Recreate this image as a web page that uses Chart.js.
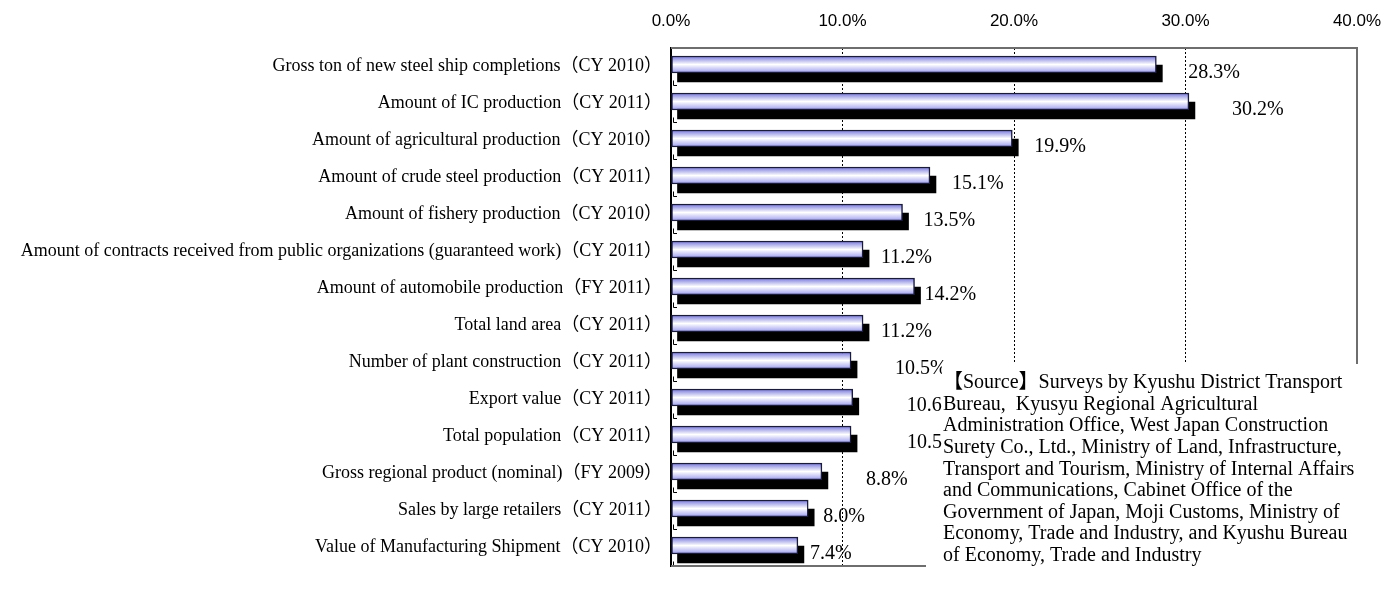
<!DOCTYPE html>
<html>
<head>
<meta charset="utf-8">
<script src="https://cdn.jsdelivr.net/npm/chart.js@4"></script>
<style>
  html, body { margin: 0; padding: 0; background: #ffffff; }
  #wrap { width: 1385px; height: 589px; }
</style>
</head>
<body>
<div id="wrap"><canvas id="chart" width="1385" height="589"></canvas></div>
<script>
// Kyushu's share of the national total, per indicator (percent)
const categories = [
  'Gross ton of new steel ship completions（CY 2010）',
  'Amount of IC production（CY 2011）',
  'Amount of agricultural production（CY 2010）',
  'Amount of crude steel production（CY 2011）',
  'Amount of fishery production（CY 2010）',
  'Amount of contracts received from public organizations (guaranteed work)（CY 2011）',
  'Amount of automobile production（FY 2011）',
  'Total land area（CY 2011）',
  'Number of plant construction（CY 2011）',
  'Export value（CY 2011）',
  'Total population（CY 2011）',
  'Gross regional product (nominal)（FY 2009）',
  'Sales by large retailers（CY 2011）',
  'Value of Manufacturing Shipment（CY 2010）'
];
const shares = [28.3, 30.2, 19.9, 15.1, 13.5, 11.2, 14.2, 11.2, 10.5, 10.6, 10.5, 8.8, 8.0, 7.4];
const axisTicks = [0, 10, 20, 30, 40];
const sourceLines = [
  '【Source】Surveys by Kyushu District Transport',
  'Bureau,  Kyusyu Regional Agricultural',
  'Administration Office, West Japan Construction',
  'Surety Co., Ltd., Ministry of Land, Infrastructure,',
  'Transport and Tourism, Ministry of Internal Affairs',
  'and Communications, Cabinet Office of the',
  'Government of Japan, Moji Customs, Ministry of',
  'Economy, Trade and Industry, and Kyushu Bureau',
  'of Economy, Trade and Industry'
];

// hand-placed label nudges from the original (pixels past the bar end)
const labelNudge = [32, 43, 22, 22, 21, 18, 10, 18, 44, 54, 56, 44, 15, 12];

const serif = "'Liberation Serif', 'Times New Roman', 'Noto Sans CJK JP', serif";
const sans = "'Liberation Sans', Arial, sans-serif";
const BAR_H = 17;
const NOTE_X = 942;   // left edge of the source note box
const NOTE_Y = 364;

// Lavender tube gradient for each bar, built from the y scale
function barGradient(c) {
  const chart = c.chart;
  const y = chart.scales.y;
  if (!y || c.dataIndex == null) return '#b8b8f8';
  const cy = y.getPixelForValue(c.dataIndex);
  if (!isFinite(cy)) return '#b8b8f8';
  const g = chart.ctx.createLinearGradient(0, cy - BAR_H / 2, 0, cy + BAR_H / 2);
  g.addColorStop(0, '#7474dc');
  g.addColorStop(0.5, '#ffffff');
  g.addColorStop(1, '#9a9aee');
  return g;
}

// Shadow dataset is shifted down-right, front bars nudged up a little
const barOffsets = {
  id: 'barOffsets',
  beforeDatasetDraw(chart, args) {
    chart.ctx.save();
    if (args.index === 0) chart.ctx.translate(6, 7);
    else chart.ctx.translate(0, -2);
  },
  afterDatasetDraw(chart) {
    chart.ctx.restore();
  }
};

const extras = {
  id: 'extras',
  afterDatasetsDraw(chart) {
    const ctx = chart.ctx;
    const meta = chart.getDatasetMeta(1);
    ctx.save();
    ctx.fillStyle = '#000000';
    ctx.font = `20px ${serif}`;
    ctx.textAlign = 'left';
    ctx.textBaseline = 'middle';
    meta.data.forEach((bar, i) => {
      ctx.fillText(shares[i].toFixed(1) + '%', bar.x + labelNudge[i], bar.y + 6);
    });
    ctx.restore();
  },
  afterDraw(chart) {
    const ctx = chart.ctx;
    const a = chart.chartArea;
    const y = chart.scales.y;
    ctx.save();
    // small marks on the category axis
    ctx.strokeStyle = '#000000';
    ctx.lineWidth = 1;
    for (let i = 0; i < categories.length; i++) {
      const by = Math.round(y.getPixelForValue(i + 0.5)) + 0.5;
      ctx.beginPath();
      ctx.moveTo(a.left + 2.5, by - 5);
      ctx.lineTo(a.left + 2.5, by);
      ctx.lineTo(a.left + 6, by);
      ctx.stroke();
    }
    // plot frame (bottom edge stops short of the note)
    ctx.strokeStyle = '#6e6e6e';
    ctx.lineWidth = 2;
    ctx.beginPath();
    ctx.moveTo(a.left, a.top);
    ctx.lineTo(a.right, a.top);
    ctx.lineTo(a.right, NOTE_Y);
    ctx.moveTo(a.left, a.bottom);
    ctx.lineTo(NOTE_X - 16, a.bottom);
    ctx.stroke();
    // source note box covers the lower right corner
    ctx.fillStyle = '#ffffff';
    ctx.fillRect(NOTE_X, NOTE_Y, chart.width - NOTE_X, chart.height - NOTE_Y);
    ctx.fillStyle = '#000000';
    ctx.font = `20px ${serif}`;
    ctx.textAlign = 'left';
    ctx.textBaseline = 'middle';
    sourceLines.forEach((line, i) => {
      ctx.fillText(line, NOTE_X + 1, 383 + i * 21.6);
    });
    ctx.restore();
  }
};

new Chart(document.getElementById('chart'), {
  type: 'bar',
  data: {
    labels: categories,
    datasets: [
      {
        label: 'shadow',
        data: shares,
        backgroundColor: '#000000',
        borderWidth: 0,
        barThickness: BAR_H,
        grouped: false,
        order: 2,
        clip: false
      },
      {
        label: 'share',
        data: shares,
        backgroundColor: barGradient,
        borderColor: '#1a1a3a',
        borderWidth: 1.5,
        borderSkipped: false,
        barThickness: BAR_H,
        grouped: false,
        order: 1,
        clip: false
      }
    ]
  },
  options: {
    indexAxis: 'y',
    responsive: false,
    animation: false,
    layout: { padding: { left: 0, right: 28, top: 0, bottom: 23 } },
    plugins: {
      legend: { display: false },
      tooltip: { enabled: false }
    },
    scales: {
      x: {
        position: 'top',
        min: axisTicks[0],
        max: axisTicks[axisTicks.length - 1],
        afterBuildTicks: (scale) => {
          scale.ticks = axisTicks.map((v) => ({ value: v }));
        },
        afterFit: (scale) => {
          scale.height = 48;
          scale.paddingLeft = 0;
          scale.paddingRight = 0;
        },
        ticks: {
          color: '#000000',
          font: { family: sans, size: 17 },
          padding: 16,
          maxRotation: 0,
          callback: (v) => v.toFixed(1) + '%'
        },
        grid: {
          drawTicks: false,
          color: (c) => (c.tick && (c.tick.value === 0 || c.tick.value === 40) ? 'rgba(0,0,0,0)' : '#000000'),
          lineWidth: 1
        },
        border: { display: false, dash: [2, 2] }
      },
      y: {
        afterFit: (scale) => { scale.width = 671; },
        ticks: {
          color: '#000000',
          font: { family: serif, size: 18 },
          padding: 9,
          autoSkip: false
        },
        grid: { display: false, drawTicks: false },
        border: { display: true, color: '#000000', width: 2 }
      }
    }
  },
  plugins: [barOffsets, extras]
});
</script>
</body>
</html>
